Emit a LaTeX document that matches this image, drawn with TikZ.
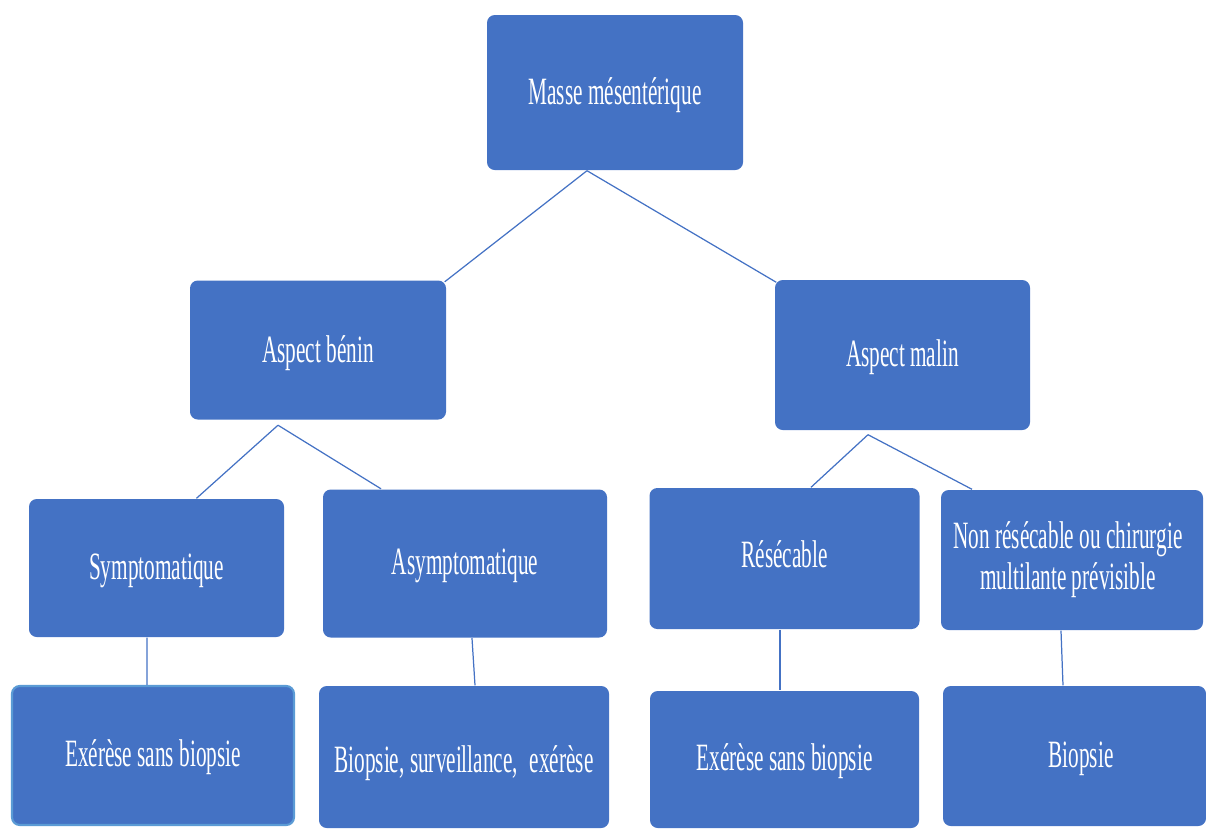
\documentclass[tikz,border=0pt]{standalone}
\usepackage{fontspec}
\setmainfont{Liberation Serif}[FakeStretch=0.55]
\definecolor{boxblue}{HTML}{4472C4}
\definecolor{edgeblue}{HTML}{5B9BD5}
\tikzset{
  box/.style={fill=boxblue, draw=none, rounded corners=2.2pt, text=white, align=center,
    inner sep=0pt, font=\fontsize{11}{11.6}\selectfont},
  oneline/.style={text height=#1, text depth=2.4pt},
  link/.style={draw=boxblue, line width=0.35pt}
}
\begin{document}
\begin{tikzpicture}
\useasboundingbox (0,0) rectangle (12.06,-8.28);
% row 1
\node[box, oneline=9.1pt, minimum width=2.56cm, minimum height=1.55cm] (A) at (6.15,-0.925) {Masse mésentérique};
% row 2
\node[box, oneline=9.4pt, minimum width=2.56cm, minimum height=1.39cm] (B) at (3.18,-3.50) {Aspect bénin};
\node[box, oneline=8.7pt, minimum width=2.55cm, minimum height=1.50cm] (C) at (9.025,-3.55) {Aspect malin};
% row 3
\node[box, oneline=8.7pt, minimum width=2.55cm, minimum height=1.38cm] (D) at (1.565,-5.68) {Symptomatique};
\node[box, oneline=8.7pt, minimum width=2.84cm, minimum height=1.48cm] (E) at (4.65,-5.635) {Asymptomatique};
\node[box, oneline=7.8pt, minimum width=2.70cm, minimum height=1.41cm] (F) at (7.845,-5.585) {Résécable};
\node[box, minimum width=2.62cm, minimum height=1.40cm] (G) at (10.72,-5.60) {Non résécable ou chirurgie\hspace*{0.08cm}\\multilante prévisible\hspace*{0.08cm}};
% row 4
\node[box, oneline=8.5pt, draw=edgeblue, line width=0.6pt, minimum width=2.82cm, minimum height=1.39cm] (H) at (1.53,-7.555) {Exérèse sans biopsie};
\node[box, oneline=11.0pt, minimum width=2.90cm, minimum height=1.42cm] (I) at (4.64,-7.57) {Biopsie, surveillance,\, exérèse};
\node[box, oneline=8.6pt, minimum width=2.69cm, minimum height=1.37cm] (J) at (7.845,-7.595) {Exérèse sans biopsie};
\node[box, oneline=9.2pt, minimum width=2.63cm, minimum height=1.40cm] (K) at (10.745,-7.56) {\hspace*{0.13cm}Biopsie};
% connectors
\coordinate (a1) at ([xshift=-0.28cm]A.south);
\draw[link] (a1) -- ([xshift=-0.02cm,yshift=-0.02cm]B.north east);
\draw[link] (a1) -- ([xshift=0.02cm,yshift=-0.03cm]C.north west);
\coordinate (b1) at ([xshift=-0.40cm,yshift=-0.05cm]B.south);
\draw[link] (b1) -- ([xshift=0.40cm]D.north);
\draw[link] (b1) -- ([xshift=-0.84cm]E.north);
\coordinate (c1) at ([xshift=-0.345cm,yshift=-0.04cm]C.south);
\draw[link] (c1) -- ([xshift=0.265cm]F.north);
\draw[link] (c1) -- ([xshift=-1.00cm]G.north);
\draw[link] ([xshift=-0.095cm]D.south) -- ([xshift=-0.06cm]H.north);
\draw[link] ([xshift=0.07cm]E.south) -- ([xshift=0.11cm]I.north);
\draw[link] ([xshift=-0.045cm]F.south) -- ([xshift=-0.045cm]J.north);
\draw[link] ([xshift=-0.11cm]G.south) -- ([xshift=-0.115cm]K.north);
\end{tikzpicture}
\end{document}
